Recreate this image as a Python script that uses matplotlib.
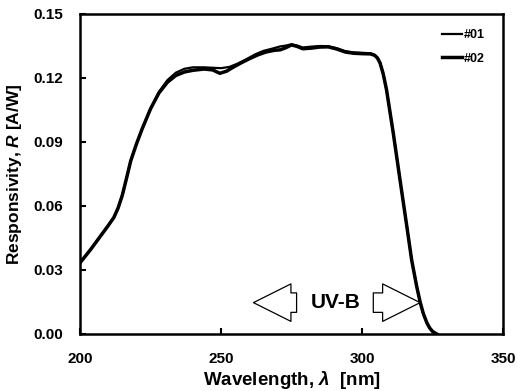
import matplotlib
matplotlib.use("Agg")
import matplotlib.pyplot as plt
from matplotlib.patches import FancyArrowPatch

plt.rcParams['font.family'] = ['Liberation Sans', 'DejaVu Sans']
plt.rcParams['font.weight'] = 'bold'
plt.rcParams['mathtext.fontset'] = 'custom'
plt.rcParams['mathtext.it'] = 'Liberation Sans:italic:bold'
plt.rcParams['mathtext.rm'] = 'Liberation Sans:bold'

# responsivity spectra of the two detectors
wl_01 = [200, 204, 208, 210, 212, 213.5, 215, 216.5, 218, 220, 222, 225, 228,
         231, 234, 237, 240, 244, 247, 250, 253, 256, 259, 262, 265, 268, 271,
         273, 275, 277, 279, 282, 285, 288, 291, 294, 297, 300, 303, 304.5,
         305.5, 306.4, 307.5, 308.7, 311.1, 313.5, 315.9, 317.6, 319.4, 320.6,
         321.7, 323.0, 324.0, 325.0, 326.5]
r_01 = [0.0333, 0.0400, 0.0472, 0.0508, 0.0546, 0.0590, 0.0650, 0.0730,
        0.0812, 0.0890, 0.0960, 0.1055, 0.1135, 0.1190, 0.1225, 0.1243,
        0.1250, 0.1250, 0.1248, 0.1246, 0.1252, 0.1268, 0.1288, 0.1310,
        0.1327, 0.1337, 0.1348, 0.1352, 0.1358, 0.1352, 0.1343, 0.1347,
        0.1350, 0.1349, 0.1340, 0.1326, 0.1320, 0.1318, 0.1316, 0.1308,
        0.1295, 0.1272, 0.1220, 0.1144, 0.0940, 0.0720, 0.0503, 0.0347,
        0.0222, 0.0150, 0.0097, 0.0052, 0.0028, 0.0012, 0.0000]

wl_02 = [200, 204, 208, 210, 212, 213.5, 215, 216.5, 218, 220, 222, 225, 228,
         231, 234, 237, 240, 244, 247, 249.6, 252, 254, 257, 260, 263, 266,
         269, 271, 273, 275, 277, 279, 282, 285, 288, 291, 294, 297, 300, 303,
         304.5, 305.5, 306.4, 307.5, 308.7, 311.1, 313.5, 315.9, 317.6, 319.4,
         320.6, 321.7, 323.0, 324.0, 325.0, 326.5]
r_02 = [0.0333, 0.0400, 0.0472, 0.0508, 0.0546, 0.0590, 0.0650, 0.0730,
        0.0812, 0.0890, 0.0960, 0.1055, 0.1130, 0.1180, 0.1212, 0.1228,
        0.1236, 0.1242, 0.1238, 0.1222, 0.1232, 0.1248, 0.1270, 0.1290,
        0.1308, 0.1322, 0.1330, 0.1332, 0.1342, 0.1355, 0.1348, 0.1337,
        0.1340, 0.1345, 0.1346, 0.1336, 0.1322, 0.1316, 0.1314, 0.1313,
        0.1306, 0.1293, 0.1270, 0.1220, 0.1144, 0.0940, 0.0720, 0.0503,
        0.0347, 0.0222, 0.0150, 0.0097, 0.0052, 0.0028, 0.0012, 0.0000]

series_labels = ['#01', '#02']
x_ticks = [200, 250, 300, 350]
y_ticks = [0.00, 0.03, 0.06, 0.09, 0.12, 0.15]

# UV-B band marker: two hollow arrows pointing outward from the label
uvb_y = 0.0147
uvb_left = (276.8, 261.5)
uvb_right = (304.0, 320.6)

fig = plt.figure(figsize=(5.17, 3.91), dpi=100)
ax = fig.add_axes([0.1547, 0.1458, 0.8183, 0.8184])

ax.plot(wl_01, r_01, color='black', lw=1.6, label=series_labels[0], zorder=3,
        solid_joinstyle='round')
ax.plot(wl_02, r_02, color='black', lw=2.5, label=series_labels[1], zorder=2,
        solid_joinstyle='round')

ax.set_xlim(200, 350)
ax.set_ylim(0, 0.15)
ax.set_xticks(x_ticks)
ax.set_yticks(y_ticks)
ax.set_yticklabels(['%.2f' % v for v in y_ticks])
ax.tick_params(direction='in', length=4, width=1.5, labelsize=11, pad=12)
ax.tick_params(axis='x', pad=13)
for s in ax.spines.values():
    s.set_linewidth(1.8)

ax.set_xlabel(r'Wavelength, $\lambda$  [nm]', fontsize=13.5, fontweight='bold',
              labelpad=2)
ax.set_ylabel(r'Responsivity, $R$ [A/W]', fontsize=12.5, fontweight='bold',
              labelpad=7)

for x0, x1 in (uvb_left, uvb_right):
    arrow = FancyArrowPatch((x0, uvb_y), (x1, uvb_y),
                            arrowstyle='simple,head_length=27,head_width=27,tail_width=14',
                            mutation_scale=1, shrinkA=0, shrinkB=0,
                            facecolor='white', edgecolor='black', lw=0.9,
                            zorder=4)
    ax.add_patch(arrow)
ax.text(290.5, uvb_y, 'UV-B', fontsize=15, fontweight='bold',
        ha='center', va='center', zorder=5)

ax.legend(loc='upper left', bbox_to_anchor=(0.855, 0.952), frameon=False,
          handlelength=1.6, handletextpad=0.15, labelspacing=0.9,
          borderpad=0, borderaxespad=0, prop={'size': 9, 'weight': 'bold'})

fig.savefig('out.png', dpi=100)
